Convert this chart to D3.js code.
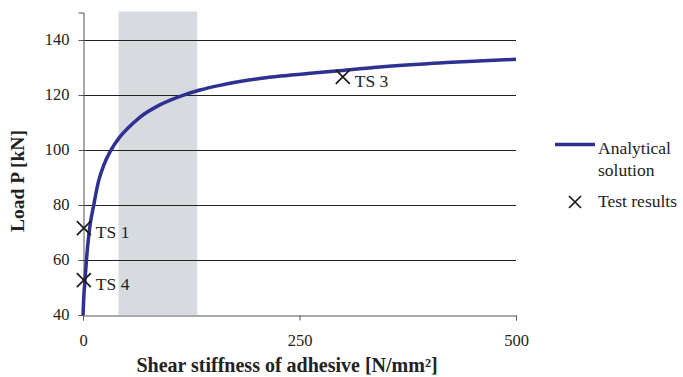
<!DOCTYPE html>
<html>
<head>
<meta charset="utf-8">
<script src="https://cdn.jsdelivr.net/npm/d3@7"></script>
<style>
  html, body { margin: 0; padding: 0; background: #fff; }
  svg { display: block; }
  svg text { font-family: "Liberation Serif", "Times New Roman", Times, "DejaVu Serif", serif; }
</style>
</head>
<body>
<svg id="chart" width="683" height="377"></svg>
<script>
// Analytical solution: load P [kN] against shear stiffness of the adhesive [N/mm²]
const stiffness = [0, 1, 2.3, 4.5, 7.4, 12.4, 17.8, 24, 32, 42.6, 52, 65.6, 88.8, 112, 135, 158, 181, 204, 228, 266, 300, 343, 420, 500];
const load      = [40, 47, 52.7, 62, 71, 80, 88.5, 94.5, 99.8, 104.8, 108, 111.9, 116.4, 119.5, 121.8, 123.5, 124.9, 126, 126.9, 128, 128.9, 130.2, 131.8, 133];

// Test specimens
const testNames     = ["TS 1", "TS 4", "TS 3"];
const testStiffness = [1, 1, 300];
const testLoad      = [71.6, 52.7, 126.6];

// Shaded range of stiffness
const bandRange = [41, 132];

const xTicks = [0, 250, 500];
const yTicks = [40, 60, 80, 100, 120, 140];

const FONT = '"Liberation Serif", "Times New Roman", Times, serif';
const svg = d3.select("#chart");
const m = { left: 83, right: 516, bottom: 315 };

const x = d3.scaleLinear().domain([0, 500]).range([m.left, m.right]);
const y = d3.scaleLinear().domain([40, 150]).range([m.bottom, m.bottom - 110 * 2.75]);

// shaded band
svg.append("rect")
  .attr("x", x(bandRange[0]))
  .attr("y", y(150) - 1)
  .attr("width", x(bandRange[1]) - x(bandRange[0]))
  .attr("height", m.bottom - y(150) + 1)
  .attr("fill", "#d7dadf");

// horizontal gridlines
svg.append("g")
  .selectAll("line")
  .data(yTicks.filter(d => d > 40))
  .join("line")
  .attr("x1", m.left).attr("x2", m.right)
  .attr("y1", d => Math.round(y(d)) + 0.5).attr("y2", d => Math.round(y(d)) + 0.5)
  .attr("stroke", "#222").attr("stroke-width", 1);

// y axis
const yAxis = svg.append("g")
  .attr("transform", `translate(${m.left + 0.5},0)`)
  .call(d3.axisLeft(y).tickValues(yTicks).tickSize(5).tickPadding(9).tickFormat(d3.format("d")));
yAxis.attr("font-family", FONT);
yAxis.select(".domain").attr("stroke", "#555");
yAxis.selectAll(".tick line").attr("stroke", "#555");
yAxis.selectAll(".tick text").attr("font-size", 16.5).attr("fill", "#222").attr("dy", "0.25em");

// x axis
const xAxis = svg.append("g")
  .attr("transform", `translate(0,${m.bottom + 0.5})`)
  .call(d3.axisBottom(x).tickValues(xTicks).tickSize(5).tickPadding(14).tickFormat(d3.format("d")));
xAxis.attr("font-family", FONT);
xAxis.select(".domain").attr("stroke", "#555");
xAxis.selectAll(".tick line").attr("stroke", "#555");
xAxis.selectAll(".tick text").attr("font-size", 16.5).attr("fill", "#222");

// analytical curve
const pts = stiffness.map((k, i) => [k, load[i]]);
svg.append("path")
  .datum(pts)
  .attr("fill", "none")
  .attr("stroke", "#2e3192")
  .attr("stroke-width", 3.5)
  .attr("d", d3.line().x(d => x(d[0])).y(d => y(d[1])).curve(d3.curveMonotoneX));

// test result markers
const cross = (g, cx, cy, r) => {
  g.append("path")
    .attr("d", `M${cx - r},${cy - r}L${cx + r},${cy + r}M${cx - r},${cy + r}L${cx + r},${cy - r}`)
    .attr("stroke", "#1a1a1a").attr("stroke-width", 1.7).attr("fill", "none");
};
const tests = svg.append("g");
testNames.forEach((name, i) => {
  const cx = x(testStiffness[i]), cy = y(testLoad[i]);
  cross(tests, cx, cy, 7);
  tests.append("text")
    .attr("x", cx + 12).attr("y", cy + 10)
    .attr("font-family", FONT).attr("font-size", 17.5).attr("fill", "#222")
    .text(name);
});

// axis titles
svg.append("text")
  .attr("x", 287).attr("y", 372)
  .attr("text-anchor", "middle")
  .attr("font-family", FONT)
  .attr("font-size", 20).attr("font-weight", "bold").attr("fill", "#222")
  .text("Shear stiffness of adhesive [N/mm²]");

svg.append("text")
  .attr("transform", "translate(24,181) rotate(-90)")
  .attr("text-anchor", "middle")
  .attr("font-family", FONT)
  .attr("font-size", 19.5).attr("font-weight", "bold").attr("fill", "#222")
  .text("Load P [kN]");

// legend
const lg = svg.append("g").attr("font-family", FONT);
lg.append("line")
  .attr("x1", 555).attr("x2", 595).attr("y1", 144.5).attr("y2", 144.5)
  .attr("stroke", "#2e3192").attr("stroke-width", 3.5);
lg.append("text").attr("x", 598).attr("y", 154).attr("font-size", 17.5).attr("fill", "#222").text("Analytical");
lg.append("text").attr("x", 598).attr("y", 176).attr("font-size", 17.5).attr("fill", "#222").text("solution");
cross(lg, 575, 202, 6);
lg.append("text").attr("x", 598).attr("y", 207).attr("font-size", 17.5).attr("fill", "#222").text("Test results");
</script>
</body>
</html>
